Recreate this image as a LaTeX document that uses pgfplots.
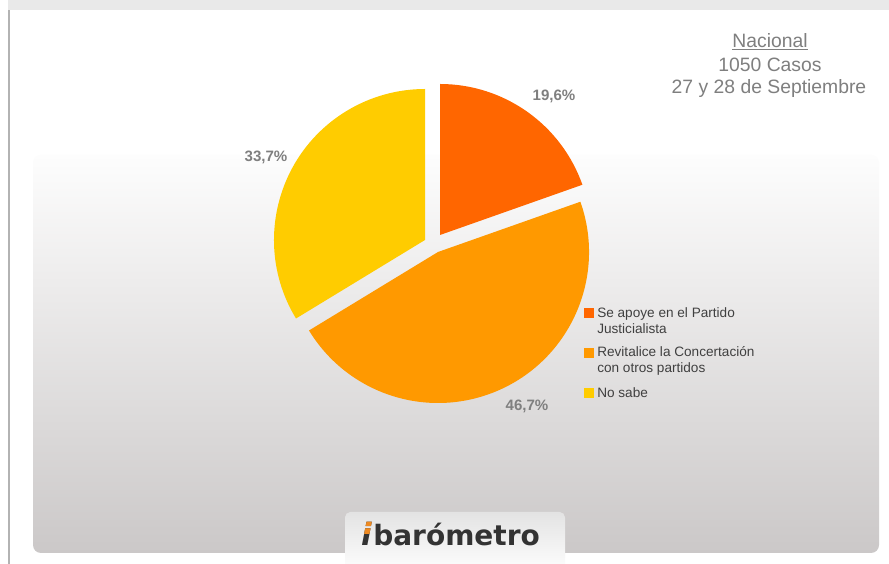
\documentclass[border=0pt]{standalone}
\usepackage{fontspec}
\setmainfont{Liberation Sans}
\newfontfamily\logofont{DejaVu Sans}
\usepackage{pgfplots}
\pgfplotsset{compat=1.18}
\definecolor{cA}{HTML}{FF6600}
\definecolor{cB}{HTML}{FF9900}
\definecolor{cC}{HTML}{FFCC00}
\definecolor{lab}{HTML}{7F7F7F}
\definecolor{tit}{HTML}{7F7F7F}
\definecolor{leg}{HTML}{404040}
\definecolor{band}{HTML}{E9E9E9}
\definecolor{vline}{HTML}{B3B3B3}
\definecolor{ptop}{HTML}{FDFDFD}
\definecolor{pbot}{HTML}{CBC8C8}
\definecolor{logotop}{HTML}{E3E3E3}
\definecolor{logotxt}{HTML}{333333}
\definecolor{logoor}{HTML}{EE8A22}
\begin{document}
\begin{tikzpicture}
\begin{axis}[at={(0,0)}, anchor=origin, x=0.75pt, y=0.75pt,
  xmin=0, xmax=889, ymin=0, ymax=564, hide axis, disabledatascaling, clip=false]
% frame
\fill[white] (axis cs:0,0) rectangle (axis cs:889,564);
\fill[band] (axis cs:8,554) rectangle (axis cs:889,564);
\fill[vline] (axis cs:8,0) rectangle (axis cs:10,554);
\shade[top color=ptop, bottom color=pbot, rounded corners=6pt] (axis cs:33,11) rectangle (axis cs:879,409);
% pie slices (values: 19.6, 46.7, 33.7)
\fill[cA] (axis cs:440,329) -- ++(90:151) arc[start angle=90, end angle={90-3.6*19.6}, radius=151] -- cycle;
\fill[cB] (axis cs:438,312) -- ++({90-3.6*19.6}:151) arc[start angle={90-3.6*19.6}, end angle={90-3.6*(19.6+46.7)}, radius=151] -- cycle;
\fill[cC] (axis cs:425,324) -- ++({90-3.6*(19.6+46.7)}:151) arc[start angle={90-3.6*(19.6+46.7)}, end angle={90-3.6*(19.6+46.7+33.7)}, radius=151] -- cycle;
% data labels
\node[lab, font=\fontsize{11.3}{13}\selectfont\bfseries] at (axis cs:554,468) {19,6\%};
\node[lab, font=\fontsize{11.3}{13}\selectfont\bfseries] at (axis cs:527,158) {46,7\%};
\node[lab, font=\fontsize{11.3}{13}\selectfont\bfseries] at (axis cs:266,407) {33,7\%};
% title
\node[tit, font=\fontsize{14.5}{17}\selectfont] at (axis cs:770,522) {\underline{Nacional}};
\node[tit, font=\fontsize{14.5}{17}\selectfont] at (axis cs:770,499) {1050 Casos};
\node[tit, font=\fontsize{14.5}{17}\selectfont] at (axis cs:769,475) {27 y 28 de Septiembre};
% legend
\fill[cA] (axis cs:584,246) rectangle (axis cs:594,256);
\fill[cB] (axis cs:584,206) rectangle (axis cs:594,216);
\fill[cC] (axis cs:584,166) rectangle (axis cs:594,176);
\node[leg, anchor=west, align=left, inner sep=0pt, font=\fontsize{10.2}{12}\selectfont] at (axis cs:597,243) {Se apoye en el Partido\\Justicialista};
\node[leg, anchor=west, align=left, inner sep=0pt, font=\fontsize{10.2}{12}\selectfont] at (axis cs:597,203) {Revitalice la Concertación\\con otros partidos};
\node[leg, anchor=west, align=left, inner sep=0pt, font=\fontsize{10.2}{12}\selectfont] at (axis cs:597,171) {No sabe};
% logo
\shade[top color=logotop, bottom color=white, rounded corners=4pt] (axis cs:345,-10) rectangle (axis cs:565,52);
\fill[white] (axis cs:345,0) rectangle (axis cs:565,-12);
\node[logotxt, anchor=base west, inner sep=0pt, font=\logofont\fontsize{21}{25}\selectfont\bfseries] at (axis cs:373,18) {barómetro};
\node[logotxt, anchor=base east, inner sep=0pt, font=\logofont\fontsize{23}{27}\selectfont\bfseries\itshape] at (axis cs:372,18) {i};
\begin{scope}
\clip (axis cs:350,30) rectangle (axis cs:380,52);
\node[logoor, anchor=base east, inner sep=0pt, font=\logofont\fontsize{23}{27}\selectfont\bfseries\itshape] at (axis cs:372,18) {i};
\end{scope}
\end{axis}
\pgfresetboundingbox
\path[use as bounding box] (0,0) rectangle (666.75pt,423pt);
\end{tikzpicture}
\end{document}
